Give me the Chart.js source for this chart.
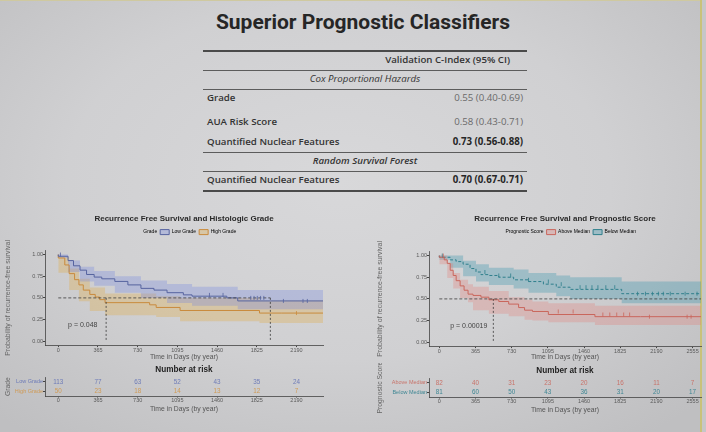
<!DOCTYPE html>
<html>
<head>
<meta charset="utf-8">
<script src="https://cdn.jsdelivr.net/npm/chart.js@4.4.1/dist/chart.umd.min.js"></script>
<style>
html, body { margin: 0; padding: 0; }
body {
  width: 706px; height: 432px; position: relative; overflow: hidden;
  background: radial-gradient(ellipse 70% 75% at 48% 42%, #d8d8da 0%, #d0d0d2 55%, #bfbfc1 100%);
  font-family: 'Open Sans', sans-serif;
}
.abs { position: absolute; }
.box { position: absolute; }
#slideTitle {
  left: 150px; width: 426px; top: 10px; text-align: center;
  font-family: Roboto, sans-serif; font-weight: 700; font-size: 21px; color: #262626;
}
.rule { position: absolute; left: 203px; width: 324px; height: 1px; background: #5c5c5c; }
.cell { position: absolute; font-size: 9.7px; line-height: 14px; color: #333; white-space: nowrap; }
#edgeR { left: 700px; top: 0; width: 2px; height: 432px; background: #c9c27a; }
#edgeT { left: 0; top: 0; width: 700px; height: 1px; background: #cfc9a0; }
#outside { left: 702px; top: 0; width: 4px; height: 432px; background: #c6c6c8; }
</style>
</head>
<body>
<div id="edgeT" class="abs"></div>
<div id="edgeR" class="abs"></div>
<div id="outside" class="abs"></div>
<div id="slideTitle" class="abs">Superior Prognostic Classifiers</div>
<div id="table"></div>

<div class="box" style="left:0;top:208px;width:335px;height:156px"><canvas id="kmGrade"></canvas></div>
<div class="box" style="left:372px;top:208px;width:334px;height:156px"><canvas id="kmScore"></canvas></div>
<div class="box" style="left:0;top:362px;width:335px;height:55px"><canvas id="riskGrade"></canvas></div>
<div class="box" style="left:372px;top:363px;width:334px;height:55px"><canvas id="riskScore"></canvas></div>

<script>
// ---- table ----
const tableHeader = 'Validation C-Index (95% CI)';
const tableGroups = ['Cox Proportional Hazards', 'Random Survival Forest'];
const tableLabels = ['Grade', 'AUA Risk Score', 'Quantified Nuclear Features', 'Quantified Nuclear Features'];
const tableValues = ['0.55 (0.40-0.69)', '0.58 (0.43-0.71)', '0.73 (0.56-0.88)', '0.70 (0.67-0.71)'];
const tableBold = [false, false, true, true];

// ---- histologic grade KM ----
const dayTicks = [0, 365, 730, 1095, 1460, 1825, 2190];
const lowGradeT = [0, 90, 140, 200, 260, 330, 400, 520, 640, 760, 880, 1000, 1150, 1230, 1550, 1650, 1950, 2434];
const lowGradeS = [1.00, 0.98, 0.93, 0.87, 0.82, 0.77, 0.74, 0.72, 0.69, 0.65, 0.61, 0.59, 0.56, 0.535, 0.52, 0.50, 0.465, 0.465];
const lowBandT = [0, 90, 200, 330, 520, 760, 1000, 1230, 1650, 1950, 2434];
const lowBandHi = [1.00, 1.00, 0.93, 0.86, 0.81, 0.75, 0.70, 0.66, 0.63, 0.59, 0.59];
const lowBandLo = [1.00, 0.96, 0.80, 0.69, 0.64, 0.56, 0.50, 0.44, 0.41, 0.37, 0.37];
const highGradeT = [0, 60, 100, 150, 190, 230, 290, 340, 380, 430, 840, 900, 1120, 1850, 2050, 2436];
const highGradeS = [1.00, 0.96, 0.88, 0.78, 0.71, 0.65, 0.59, 0.54, 0.51, 0.48, 0.445, 0.42, 0.39, 0.355, 0.325, 0.325];
const highBandT = [0, 100, 190, 290, 430, 900, 1120, 1850, 2050, 2436];
const highBandHi = [1.00, 0.97, 0.84, 0.72, 0.62, 0.55, 0.52, 0.50, 0.47, 0.47];
const highBandLo = [1.00, 0.79, 0.59, 0.46, 0.35, 0.30, 0.28, 0.23, 0.21, 0.21];
const lowCensor = [20, 1390, 1515, 1770, 1800, 1830, 1860, 1890, 2070, 2250, 2290];
const highCensor = [2190];
const gradeMedians = [440, 1950];
const gradeRiskLow = [113, 77, 63, 52, 43, 35, 24];
const gradeRiskHigh = [50, 23, 18, 14, 13, 12, 7];

// ---- prognostic score KM ----
const dayTicks2 = [0, 365, 730, 1095, 1460, 1825, 2190, 2555];
const aboveT = [0, 50, 80, 110, 140, 170, 210, 250, 290, 340, 420, 500, 600, 700, 800, 860, 940, 1100, 1570, 2030, 2640];
const aboveS = [1.00, 0.98, 0.95, 0.91, 0.83, 0.77, 0.71, 0.65, 0.60, 0.555, 0.54, 0.52, 0.49, 0.47, 0.44, 0.40, 0.37, 0.355, 0.32, 0.295, 0.295];
const aboveBandT = [0, 80, 140, 210, 290, 340, 500, 700, 860, 940, 1100, 1570, 2030, 2640];
const aboveBandHi = [1.00, 1.00, 0.91, 0.80, 0.72, 0.67, 0.64, 0.59, 0.52, 0.49, 0.47, 0.45, 0.42, 0.42];
const aboveBandLo = [1.00, 0.90, 0.74, 0.62, 0.51, 0.46, 0.37, 0.33, 0.30, 0.26, 0.25, 0.23, 0.20, 0.20];
const belowT = [0, 110, 170, 240, 310, 370, 420, 500, 600, 750, 900, 1050, 1180, 1320, 1840, 1940, 2640];
const belowS = [1.00, 0.98, 0.95, 0.93, 0.90, 0.85, 0.81, 0.78, 0.77, 0.75, 0.72, 0.70, 0.67, 0.635, 0.61, 0.56, 0.56];
const belowBandT = [0, 110, 240, 370, 500, 750, 900, 1180, 1320, 1840, 1940, 2640];
const belowBandHi = [1.00, 1.00, 1.00, 0.94, 0.90, 0.86, 0.84, 0.80, 0.77, 0.75, 0.70, 0.70];
const belowBandLo = [1.00, 0.95, 0.86, 0.76, 0.70, 0.66, 0.62, 0.57, 0.53, 0.50, 0.45, 0.45];
const aboveCensor = [40, 1200, 1350, 1650, 1720, 1790, 1860, 1920, 2120, 2500, 2540];
const belowCensor = [30, 460, 600, 720, 900, 1100, 1230, 1420, 1480, 1540, 1600, 1680, 1770, 2000, 2080, 2150, 2210, 2260, 2330, 2480, 2600];
const scoreMedians = [545];
const scoreRiskAbove = [82, 40, 31, 23, 20, 16, 11, 7];
const scoreRiskBelow = [81, 60, 50, 43, 36, 31, 20, 17];

// colours
const BLUE = '#56639f', BLUE_BAND = 'rgba(105,125,225,0.28)';
const ORANGE = '#c98a3c', ORANGE_BAND = 'rgba(225,170,60,0.30)';
const RED = '#c9665c', RED_BAND = 'rgba(230,120,110,0.28)';
const TEAL = '#2f7f8c', TEAL_BAND = 'rgba(50,145,170,0.32)';
const AXIS = '#5a5a5a';

Chart.defaults.font.family = "'Liberation Sans', Arial, sans-serif";
Chart.defaults.color = AXIS;

// build table
(function () {
  const t = document.getElementById('table');
  const rules = [50, 69.5, 88.5, 151.5, 171, 190];
  rules.forEach((y, i) => {
    const d = document.createElement('div');
    d.className = 'rule';
    d.style.top = y + 'px';
    if (i === 0 || i === rules.length - 1) { d.style.height = '1.5px'; d.style.background = '#4a4a4a'; }
    t.appendChild(d);
  });
  function cell(text, y, opts) {
    const d = document.createElement('div');
    d.className = 'cell';
    d.textContent = text;
    d.style.top = (y - 7) + 'px';
    Object.assign(d.style, opts);
    t.appendChild(d);
  }
  cell(tableHeader, 60, { right: (706 - 510) + 'px', fontWeight: 600 });
  cell(tableGroups[0], 78.5, { left: '203px', width: '324px', textAlign: 'center', fontStyle: 'italic', fontWeight: 500 });
  cell(tableGroups[1], 161, { left: '203px', width: '324px', textAlign: 'center', fontStyle: 'italic', fontWeight: 600 });
  const rowY = [98, 122, 142, 180];
  tableLabels.forEach((lab, i) => {
    cell(lab, rowY[i], { left: '207px', fontWeight: 600 });
    cell(tableValues[i], rowY[i], {
      right: (706 - 523) + 'px',
      fontWeight: tableBold[i] ? 700 : 400,
      color: tableBold[i] ? '#262626' : '#6a6a6a'
    });
  });
})();

function pts(ts, vs) { return ts.map((t, i) => ({ x: t, y: vs[i] })); }
function stepAt(ts, vs, t) {
  let v = vs[0];
  for (let i = 0; i < ts.length; i++) { if (ts[i] <= t) v = vs[i]; }
  return v;
}

// p-value text drawn at data coordinates
const pLabel = {
  id: 'pLabel',
  afterDatasetsDraw(chart) {
    const o = chart.options.plugins.pLabel;
    if (!o) return;
    const c = chart.ctx;
    c.save();
    c.font = "7px 'Liberation Sans', Arial, sans-serif";
    c.fillStyle = '#444';
    c.textAlign = 'left';
    c.textBaseline = 'middle';
    c.fillText(o.text, chart.scales.x.getPixelForValue(o.x), chart.scales.y.getPixelForValue(o.y));
    c.restore();
  }
};

// numbers-at-risk text drawn at data points
const riskText = {
  id: 'riskText',
  afterDatasetsDraw(chart) {
    const c = chart.ctx;
    c.save();
    c.font = "6.3px 'Liberation Sans', Arial, sans-serif";
    c.textAlign = 'center';
    c.textBaseline = 'middle';
    chart.data.datasets.forEach((ds, di) => {
      const meta = chart.getDatasetMeta(di);
      c.fillStyle = ds.textColor;
      meta.data.forEach((el, i) => c.fillText(String(ds.counts[i]), el.x, el.y));
    });
    c.restore();
  }
};

function xScale(ticksArr, min, max, height, titlePad) {
  return {
    type: 'linear', min: min, max: max,
    afterBuildTicks: s => { s.ticks = ticksArr.map(v => ({ value: v })); },
    afterFit: s => { s.height = height; },
    ticks: { callback: v => String(v), font: { size: 5.5 }, padding: 0, maxRotation: 0, autoSkip: false, color: AXIS },
    grid: { drawOnChartArea: false, drawTicks: true, tickLength: 1.5, color: '#444' },
    border: { display: true, color: '#444', width: 0.8 },
    title: { display: true, text: 'Time in Days (by year)', font: { size: 6.8 }, color: '#555', padding: { top: 0, bottom: titlePad } }
  };
}

function makeKM(id, cfg) {
  const ds = [];
  cfg.groups.forEach(g => {
    const hiIdx = ds.length;
    ds.push({ data: pts(g.bandT, g.bandHi), stepped: 'after', borderWidth: 0, pointRadius: 0, fill: false, order: 5 });
    ds.push({ data: pts(g.bandT, g.bandLo), stepped: 'after', borderWidth: 0, pointRadius: 0,
      fill: { target: hiIdx }, backgroundColor: g.band, order: 5 });
  });
  cfg.groups.forEach(g => {
    ds.push({ label: g.name, data: pts(g.t, g.s), stepped: 'after', borderColor: g.color, borderWidth: 1,
      borderDash: g.dash || [], pointRadius: 0, fill: false, order: 1 });
  });
  cfg.groups.forEach(g => {
    ds.push({ data: g.censor.map(t => ({ x: t, y: stepAt(g.t, g.s, t) })), showLine: false,
      pointStyle: 'line', rotation: 90, pointRadius: 2, borderColor: g.color, borderWidth: 0.8, order: 0 });
  });
  ds.push({ data: [{ x: 0, y: 0.5 }, { x: cfg.hEnd, y: 0.5 }], borderColor: '#3a3a3a', borderWidth: 0.8,
    borderDash: [3, 2], pointRadius: 0, order: 0 });
  cfg.medians.forEach(m => {
    ds.push({ data: [{ x: m, y: 0.5 }, { x: m, y: 0 }], borderColor: '#3a3a3a', borderWidth: 0.8,
      borderDash: [2, 2], pointRadius: 0, order: 0 });
  });

  new Chart(document.getElementById(id), {
    type: 'line',
    data: { datasets: ds },
    plugins: [pLabel],
    options: {
      responsive: true, maintainAspectRatio: false, animation: false, events: [],
      layout: { padding: { left: 2, right: cfg.padRight, top: 0, bottom: 0 } },
      plugins: {
        title: { display: true, text: cfg.title, fullSize: false, color: '#2a2a2a',
          font: { size: 8, weight: 'bold' }, padding: { top: 5.5, bottom: 3.5 } },
        legend: {
          display: true, fullSize: false,
          labels: {
            boxWidth: 9, boxHeight: 5, padding: 3, font: { size: 5 }, color: '#555',
            generateLabels: () => [{ text: cfg.legendTitle, fillStyle: 'rgba(0,0,0,0)', strokeStyle: 'rgba(0,0,0,0)', lineWidth: 0, hidden: false }]
              .concat(cfg.groups.map(g => ({ text: g.name, fillStyle: g.band, strokeStyle: g.color, lineWidth: 1, hidden: false })))
          }
        },
        tooltip: { enabled: false },
        pLabel: cfg.p
      },
      scales: {
        x: xScale(cfg.ticks, cfg.xMin, cfg.xMax, cfg.xHeight, 3),
        spacer: { axis: 'x', position: 'top', display: true, ticks: { display: false }, grid: { display: false },
          border: { display: false }, afterFit: s => { s.height = cfg.spacer; } },
        y: {
          min: -0.05, max: 1.05,
          afterBuildTicks: s => { s.ticks = [0, 0.25, 0.5, 0.75, 1].map(v => ({ value: v })); },
          afterFit: s => { s.width = cfg.yWidth; },
          ticks: { callback: v => v.toFixed(2), font: { size: 5.5 }, padding: 0, color: AXIS },
          grid: { drawOnChartArea: false, drawTicks: true, tickLength: 2, color: '#444' },
          border: { display: true, color: '#444', width: 0.8 },
          title: { display: true, text: 'Probability of recurrence-free survival', font: { size: 7 }, color: '#666', padding: { top: 2, bottom: 0 } }
        }
      }
    }
  });
}

function makeRisk(id, cfg) {
  new Chart(document.getElementById(id), {
    type: 'scatter',
    data: {
      datasets: cfg.rows.map(r => ({
        data: cfg.ticks.map(t => ({ x: t, y: r.name })),
        counts: r.counts, textColor: r.color, pointRadius: 0
      }))
    },
    plugins: [riskText],
    options: {
      responsive: true, maintainAspectRatio: false, animation: false, events: [],
      layout: { padding: { left: 2, right: cfg.padRight, top: 0, bottom: 0 } },
      plugins: {
        legend: { display: false }, tooltip: { enabled: false },
        title: { display: true, text: 'Number at risk', fullSize: false, color: '#222',
          font: { size: 8.2, weight: 'bold' }, padding: { top: 3, bottom: 2.4 } }
      },
      scales: {
        x: xScale(cfg.ticks, cfg.xMin, cfg.xMax, 21, 4),
        y: {
          type: 'category', labels: cfg.rows.map(r => r.name), offset: true,
          afterFit: s => { s.width = cfg.yWidth; },
          ticks: { font: { size: 5.5 }, padding: 0, autoSkip: false, color: c => cfg.rows[c.index].color },
          grid: { drawOnChartArea: false, drawTicks: true, tickLength: 2, offset: false, color: '#444' },
          border: { display: true, color: '#444', width: 0.8 },
          title: { display: true, text: cfg.yTitle, font: { size: 6.8 }, color: '#666', padding: { top: 2, bottom: 0 } }
        }
      }
    }
  });
}

makeKM('kmGrade', {
  title: 'Recurrence Free Survival and Histologic Grade', legendTitle: 'Grade',
  ticks: dayTicks, xMin: -122, xMax: 2434, padRight: 12, yWidth: 43, xHeight: 18.4, spacer: 5.6,
  hEnd: gradeMedians[1], medians: gradeMedians,
  p: { text: 'p = 0.048', x: 90, y: 0.19 },
  groups: [
    { name: 'Low Grade', color: BLUE, band: BLUE_BAND, t: lowGradeT, s: lowGradeS, bandT: lowBandT, bandHi: lowBandHi, bandLo: lowBandLo, censor: lowCensor },
    { name: 'High Grade', color: ORANGE, band: ORANGE_BAND, t: highGradeT, s: highGradeS, bandT: highBandT, bandHi: highBandHi, bandLo: highBandLo, censor: highCensor }
  ]
});

makeKM('kmScore', {
  title: 'Recurrence Free Survival and Prognostic Score', legendTitle: 'Prognostic Score',
  ticks: dayTicks2, xMin: -104, xMax: 2640, padRight: 5, yWidth: 55, xHeight: 17.4, spacer: 6.6,
  hEnd: 2640, medians: scoreMedians,
  p: { text: 'p = 0.00019', x: 110, y: 0.19 },
  groups: [
    { name: 'Above Median', color: RED, band: RED_BAND, t: aboveT, s: aboveS, bandT: aboveBandT, bandHi: aboveBandHi, bandLo: aboveBandLo, censor: aboveCensor },
    { name: 'Below Median', color: TEAL, band: TEAL_BAND, t: belowT, s: belowS, bandT: belowBandT, bandHi: belowBandHi, bandLo: belowBandLo, censor: belowCensor, dash: [3, 2] }
  ]
});

makeRisk('riskGrade', {
  ticks: dayTicks, xMin: -122, xMax: 2434, padRight: 12, yWidth: 43, yTitle: 'Grade',
  rows: [
    { name: 'Low Grade', color: '#6d7bb8', counts: gradeRiskLow },
    { name: 'High Grade', color: '#cf9a55', counts: gradeRiskHigh }
  ]
});

makeRisk('riskScore', {
  ticks: dayTicks2, xMin: -104, xMax: 2640, padRight: 5, yWidth: 55, yTitle: 'Prognostic Score',
  rows: [
    { name: 'Above Median', color: '#c8736a', counts: scoreRiskAbove },
    { name: 'Below Median', color: '#3f8794', counts: scoreRiskBelow }
  ]
});
</script>
</body>
</html>
